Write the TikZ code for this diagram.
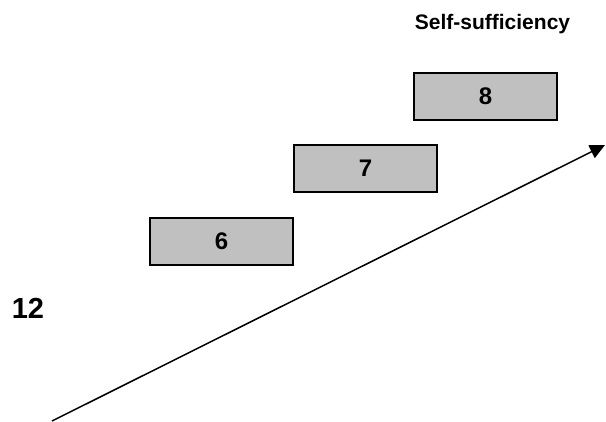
\documentclass[tikz,border=0pt]{standalone}
\usepackage{fontspec}
\setmainfont{Liberation Sans}
\usetikzlibrary{arrows.meta}
\definecolor{boxgray}{HTML}{C0C0C0}
\begin{document}
\begin{tikzpicture}[x=1pt,y=-1pt,
  stepbox/.style={draw=black,line width=2pt,fill=boxgray,minimum width=143pt,minimum height=47pt,inner sep=0pt,font=\fontsize{24}{28}\selectfont\bfseries},
  lbl/.style={inner sep=0pt,font=\bfseries}]
\useasboundingbox (0,0) rectangle (606,421);
\node[stepbox] (b6) at (221.5,241) {6};
\node[stepbox] (b7) at (365.5,168.5) {7};
\node[stepbox] (b8) at (485.5,96.5) {8};
\node[lbl,font=\fontsize{21}{24}\selectfont\bfseries] (ss) at (492.5,24.5) {Self-sufficiency};
\node[lbl,font=\fontsize{29}{32}\selectfont\bfseries] (n12) at (28,308) {12};
\coordinate (s) at (52,421);
\coordinate (e) at (605,145);
\draw[line width=1.5pt,-{Triangle[length=15pt,width=14pt]}] (s) -- (e);
\end{tikzpicture}
\end{document}
